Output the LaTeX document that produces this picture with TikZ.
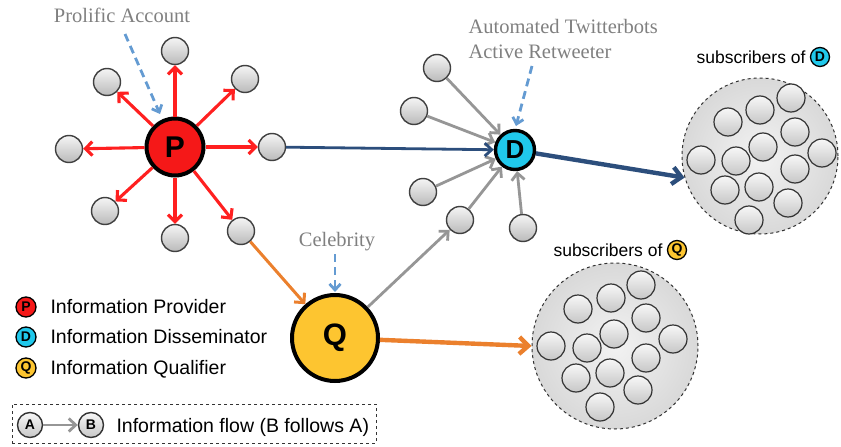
\documentclass[tikz,border=0pt]{standalone}
\usepackage{fontspec}
\setmainfont{Liberation Serif}
\newfontfamily\lsans{Liberation Sans}
\usetikzlibrary{arrows.meta}
\definecolor{pred}{RGB}{245,24,24}
\definecolor{ared}{RGB}{255,32,32}
\definecolor{dcyan}{RGB}{32,200,235}
\definecolor{qyel}{RGB}{253,197,48}
\definecolor{dblue}{RGB}{44,78,124}
\definecolor{qorange}{RGB}{235,128,45}
\definecolor{hintblue}{RGB}{100,155,210}
\definecolor{garr}{RGB}{150,150,150}
\definecolor{gtext}{RGB}{128,128,128}
\begin{document}
\begin{tikzpicture}[x=1pt,y=-1pt,
  gnode/.style={circle, draw=black!75, line width=1.4pt, top color=black!4, bottom color=black!27, minimum size=27pt, inner sep=0pt},
  snode/.style={circle, draw=black!80, line width=1.2pt, top color=black!3, bottom color=black!22, minimum size=28pt, inner sep=0pt},
  bigP/.style={circle, draw=black, line width=4pt, fill=pred, minimum size=57pt, inner sep=0pt, font=\lsans\bfseries\fontsize{30}{30}\selectfont},
  bigD/.style={circle, draw=black, line width=3.4pt, fill=dcyan, minimum size=39pt, inner sep=0pt, font=\lsans\bfseries\fontsize{26}{26}\selectfont},
  bigQ/.style={circle, draw=black, line width=4pt, fill=qyel, minimum size=86pt, inner sep=0pt, font=\lsans\bfseries\fontsize{31}{31}\selectfont},
  group/.style={circle, draw=black!80, dashed, line width=1pt, inner color=black!5, outer color=black!15, inner sep=0pt},
  mini/.style={circle, draw=black, line width=1.3pt, minimum size=20pt, inner sep=0pt, font=\lsans\bfseries\fontsize{14}{14}\selectfont},
  redarr/.style={draw=ared, line width=3.1pt, -{Straight Barb[length=7pt,width=14pt]}},
  grayarr/.style={draw=garr, line width=2.8pt, -{Straight Barb[length=7pt,width=13pt]}},
  bluearr/.style={draw=dblue, line width=2.8pt, -{Straight Barb[length=7pt,width=13pt]}},
  bluethick/.style={draw=dblue, line width=4.4pt, -{Straight Barb[length=9pt,width=17pt]}},
  orangearr/.style={draw=qorange, line width=3pt, -{Straight Barb[length=7pt,width=14pt]}},
  orangethick/.style={draw=qorange, line width=4.4pt, -{Straight Barb[length=9pt,width=17pt]}},
  hintarr/.style={draw=hintblue, line width=2.8pt, dash pattern=on 8pt off 5pt, -{Straight Barb[length=6pt,width=11pt]}},
  hinttext/.style={text=gtext, font=\fontsize{20.5}{24}\selectfont},
  sanstext/.style={font=\lsans\fontsize{19.5}{22}\selectfont},
  subtext/.style={font=\lsans\fontsize{17.5}{20}\selectfont}
]
\useasboundingbox (0,0) rectangle (841,447);

% subscriber groups
\node[group, minimum size=156pt] (subD) at (760,156) {};
\node[group, minimum size=166pt] (subQ) at (615,346) {};
\foreach \x/\y [count=\i] in {728/122,760/110,791/98,795/132,763/147,822/153,701/160,736/161,795/169,725/190,759/187,788/203,749/220}
  \node[snode] (sd\i) at (\x,\y) {};
\foreach \x/\y [count=\i] in {578/309,611/298,641/285,646/318,614/334,673/339,551/346,587/348,646/358,576/378,610/373,638/390,600/407}
  \node[snode] (sq\i) at (\x,\y) {};

% P cluster
\node[bigP] (P) at (175,147) {P};
\node[gnode] (p1) at (175,51) {};
\node[gnode] (p2) at (107,82) {};
\node[gnode] (p3) at (245,79) {};
\node[gnode] (p4) at (69,149) {};
\node[gnode] (p5) at (272,147) {};
\node[gnode] (p6) at (105,211) {};
\node[gnode] (p7) at (175,238) {};
\node[gnode] (p8) at (241,231) {};
\foreach \i in {1,...,8} \draw[redarr] (P) -- (p\i);

% D cluster
\node[bigD] (D) at (515,150) {D};
\node[gnode] (d1) at (437,68) {};
\node[gnode] (d2) at (414,111) {};
\node[gnode] (d3) at (423,192) {};
\node[gnode] (d4) at (460,220) {};
\node[gnode] (d5) at (523,228) {};
\foreach \i in {1,...,5} \draw[grayarr] (d\i) -- (D);

% Q
\node[bigQ] (Q) at (335,338) {Q};

% flows
\draw[bluearr] (p5) -- (D);
\draw[bluethick] (D) -- (subD.196);
\draw[orangearr] (p8) -- (Q);
\draw[grayarr] (Q) -- (d4);
\draw[orangethick] (Q) -- (subQ.west);

% hint labels
\node[hinttext, anchor=base] (tprol) at (122,23) {Prolific Account};
\coordinate (hp1) at (125,34);
\coordinate (hp2) at (160,114);
\draw[hintarr] (hp1) -- (hp2);
\node[hinttext, anchor=base west] (tauto) at (465,33) {Automated Twitterbots};
\node[hinttext, anchor=base west] (tact) at (465,58) {Active Retweeter};
\coordinate (ha1) at (532,66);
\coordinate (ha2) at (516,126);
\draw[hintarr] (ha1) -- (ha2);
\node[hinttext, anchor=base] (tceleb) at (337,246) {Celebrity};
\coordinate (hc1) at (335,254);
\coordinate (hc2) at (335,292);
\draw[hintarr] (hc1) -- (hc2);

% subscriber captions
\node[subtext, anchor=base west] (capD) at (693,63) {subscribers of};
\node[mini, fill=dcyan, minimum size=19pt] (capDc) at (820,57) {D};
\node[subtext, anchor=base west] (capQ) at (550,256) {subscribers of};
\node[mini, fill=qyel, minimum size=19pt] (capQc) at (677,250) {Q};

% legend
\node[mini, fill=pred] (lp) at (26,307) {P};
\node[mini, fill=dcyan] (ld) at (26,337) {D};
\node[mini, fill=qyel] (lq) at (26,368) {Q};
\node[sanstext, anchor=base west] (ltp) at (47,313) {Information Provider};
\node[sanstext, anchor=base west] (ltd) at (47,343) {Information Disseminator};
\node[sanstext, anchor=base west] (ltq) at (47,374) {Information Qualifier};

\node[draw=black!80, dashed, line width=1pt, minimum width=364pt, minimum height=39pt, inner sep=0pt] (lbox) at (194,423.5) {};
\node[snode, minimum size=25pt, draw=black!80, line width=1.4pt, font=\lsans\bfseries\fontsize{14}{14}\selectfont] (la) at (30,425) {A};
\node[snode, minimum size=25pt, draw=black!80, line width=1.4pt, font=\lsans\bfseries\fontsize{14}{14}\selectfont] (lb) at (91,425) {B};
\draw[grayarr] (la) -- (lb);
\node[sanstext, anchor=base west] (ltf) at (113,432) {Information flow (B follows A)};
\end{tikzpicture}
\end{document}
